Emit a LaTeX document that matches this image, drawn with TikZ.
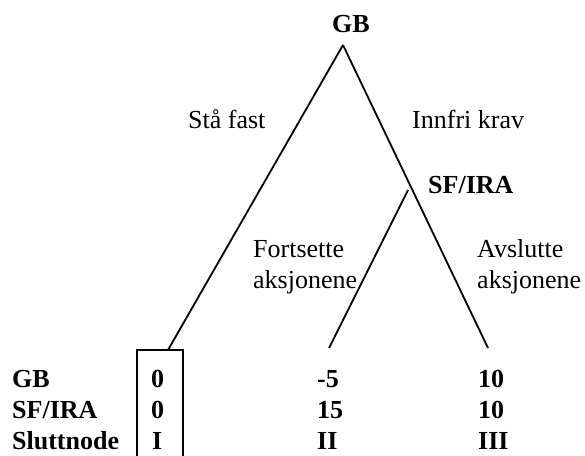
\documentclass[tikz,border=0pt]{standalone}
\usepackage{fontspec}
\setmainfont{Liberation Serif}
\begin{document}
\begin{tikzpicture}[x=1pt,y=-1pt,
  lab/.style={anchor=base west, inner sep=0pt, font=\fontsize{26}{30}\selectfont},
  bl/.style={anchor=base west, inner sep=0pt, font=\fontsize{26}{30}\selectfont\bfseries},
  edge/.style={line width=1.8pt, black}]
\useasboundingbox (0,0) rectangle (585,455);
% tree points
\coordinate (root) at (343,45);
\coordinate (boxtop) at (168,350);
\coordinate (sf) at (408,190);
\coordinate (end2) at (329,348);
\coordinate (end3) at (488,348);
% labels
\node[bl, anchor=base] (gbtop) at (351,32) {GB};
\node[lab] (stafast) at (188,128) {Stå fast};
\node[lab] (innfri) at (412,128) {Innfri krav};
\node[bl] (sflab) at (428,193) {SF/IRA};
\node[lab] (fort1) at (253,257) {Fortsette};
\node[lab] (fort2) at (253,288) {aksjonene};
\node[lab] (avs1) at (477,257) {Avslutte};
\node[lab] (avs2) at (477,288) {aksjonene};
% branches
\draw[edge] (root) -- (boxtop);
\draw[edge] (root) -- (end3);
\draw[edge] (sf) -- (end2);
% box
\coordinate (bl1) at (137,460);
\coordinate (bl2) at (137,350);
\coordinate (br2) at (183,350);
\coordinate (br1) at (183,460);
\draw[edge] (bl1) -- (bl2) -- (br2) -- (br1);
% payoff table
\node[bl] (rgb) at (12,387) {GB};
\node[bl] (rsf) at (12,418) {SF/IRA};
\node[bl] (rsl) at (12,449) {Sluttnode};
\node[bl] (a1) at (151,387) {0};
\node[bl] (a2) at (151,418) {0};
\node[bl] (a3) at (152,449) {I};
\node[bl] (b1) at (317,387) {-5};
\node[bl] (b2) at (317,418) {15};
\node[bl] (b3) at (317,449) {II};
\node[bl] (c1) at (478,387) {10};
\node[bl] (c2) at (478,418) {10};
\node[bl] (c3) at (478,449) {III};
\end{tikzpicture}
\end{document}
